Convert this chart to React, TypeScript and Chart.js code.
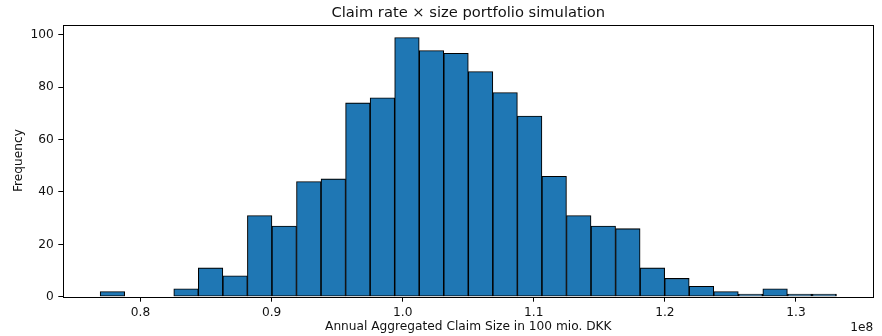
import React, { useEffect, useRef } from 'react';
import { Chart, registerables } from 'chart.js';

Chart.register(...registerables);

// Histogram of simulated annual aggregated claim sizes (x values in units of 1e8 DKK)
const binStart = 0.7692;
const binEnd = 1.3309;
const counts = [
  2, 0, 0, 3, 11, 8, 31, 27, 44, 45, 74, 76, 99, 94, 93,
  86, 78, 69, 46, 31, 27, 26, 11, 7, 4, 2, 1, 3, 1, 1,
];
const xTicks = [0.8, 0.9, 1.0, 1.1, 1.2, 1.3];
const yTicks = [0, 20, 40, 60, 80, 100];
const xLimits = [0.7411, 1.359];
const yLimits = [0, 103.95];

const titleText = 'Claim rate × size portfolio simulation';
const xLabel = 'Annual Aggregated Claim Size in 100 mio. DKK';
const yLabel = 'Frequency';
const offsetText = '1e8';

const FONT = "'DejaVu Sans', sans-serif";
const TEXT = '#111';
const LABEL_SIZE = 12.2;

const framePlugin = {
  id: 'frame',
  afterDatasetsDraw(chart: any) {
    const { ctx, chartArea } = chart;
    ctx.save();
    ctx.strokeStyle = '#000';
    ctx.lineWidth = 1;
    ctx.strokeRect(
      Math.round(chartArea.left) + 0.5,
      Math.round(chartArea.top) + 0.5,
      Math.round(chartArea.right) - Math.round(chartArea.left),
      Math.round(chartArea.bottom) - Math.round(chartArea.top)
    );
    ctx.restore();
  },
};

const offsetLabelPlugin = {
  id: 'offsetLabel',
  afterDraw(chart: any) {
    const { ctx, chartArea } = chart;
    ctx.save();
    ctx.font = `${LABEL_SIZE}px ${FONT}`;
    ctx.fillStyle = TEXT;
    ctx.textAlign = 'right';
    ctx.textBaseline = 'middle';
    ctx.fillText(offsetText, chartArea.right, 328);
    ctx.restore();
  },
};

export default function App() {
  const canvasRef = useRef<HTMLCanvasElement | null>(null);

  useEffect(() => {
    if (!canvasRef.current) return;
    const width = (binEnd - binStart) / counts.length;
    const points = counts.map((c, i) => ({ x: binStart + (i + 0.5) * width, y: c }));

    const chart = new Chart(canvasRef.current, {
      type: 'bar',
      data: {
        datasets: [
          {
            data: points as any,
            backgroundColor: '#1f77b4',
            borderColor: '#000',
            borderWidth: 1.1,
            borderSkipped: false,
            barPercentage: 1,
            categoryPercentage: 1,
          },
        ],
      },
      options: {
        responsive: false,
        animation: false,
        layout: { padding: { left: 0, right: 8.7, top: 0, bottom: 0 } },
        plugins: {
          legend: { display: false },
          tooltip: { enabled: false },
          title: {
            display: true,
            text: titleText,
            fullSize: false,
            color: TEXT,
            font: { family: FONT, size: 14.7, weight: 'normal' },
            padding: { top: 4.6, bottom: 2.3 },
          },
        },
        scales: {
          x: {
            type: 'linear',
            min: xLimits[0],
            max: xLimits[1],
            offset: false,
            afterBuildTicks: (s: any) => {
              s.ticks = xTicks.map((v) => ({ value: v }));
            },
            afterFit: (s: any) => {
              s.height = 39.3;
            },
            ticks: {
              color: TEXT,
              font: { family: FONT, size: LABEL_SIZE },
              padding: 3.5,
              maxRotation: 0,
              callback: (v: any) => Number(v).toFixed(1),
            },
            grid: {
              offset: false,
              drawOnChartArea: false,
              drawTicks: true,
              tickLength: 5,
              color: '#000',
            },
            border: { display: false },
            title: {
              display: true,
              text: xLabel,
              color: TEXT,
              font: { family: FONT, size: LABEL_SIZE },
              padding: { top: 0, bottom: 1.7 },
            },
          },
          y: {
            type: 'linear',
            min: yLimits[0],
            max: yLimits[1],
            afterBuildTicks: (s: any) => {
              s.ticks = yTicks.map((v) => ({ value: v }));
            },
            afterFit: (s: any) => {
              s.width = 63.3;
            },
            ticks: {
              color: TEXT,
              font: { family: FONT, size: LABEL_SIZE },
              padding: 4.5,
            },
            grid: {
              offset: false,
              drawOnChartArea: false,
              drawTicks: true,
              tickLength: 5,
              color: '#000',
            },
            border: { display: false },
            title: {
              display: true,
              text: yLabel,
              color: TEXT,
              font: { family: FONT, size: LABEL_SIZE },
              padding: { top: 11.7, bottom: 0 },
            },
          },
        },
      },
      plugins: [framePlugin, offsetLabelPlugin],
    });

    return () => chart.destroy();
  }, []);

  return (
    <div style={{ position: 'fixed', left: 0, top: 0, width: 882, height: 336, background: '#fff' }}>
      <canvas ref={canvasRef} width={882} height={336} style={{ display: 'block' }} />
    </div>
  );
}
